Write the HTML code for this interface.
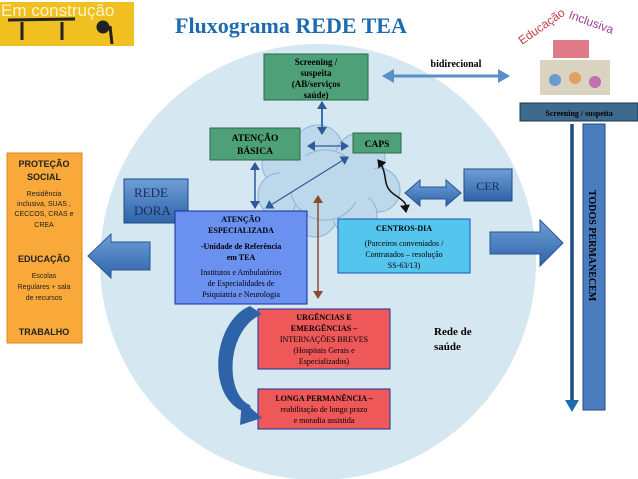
<!DOCTYPE html>
<html><head><meta charset="utf-8"><style>
body{margin:0;background:#fff;}
svg{display:block;font-family:"Liberation Serif",serif;}
.s{font-family:"Liberation Sans",sans-serif;}
</style></head><body>
<svg width="638" height="479" viewBox="0 0 638 479">
<defs>
<marker id="ah" markerUnits="userSpaceOnUse" markerWidth="10" markerHeight="10" refX="7" refY="5" orient="auto-start-reverse"><path d="M0,0 L8,5 L0,10 z" fill="#2f5a9a"/></marker>
<marker id="ah2" markerUnits="userSpaceOnUse" markerWidth="14" markerHeight="14" refX="10" refY="7" orient="auto-start-reverse"><path d="M0,0 L12,7 L0,14 z" fill="#5a8fc8"/></marker>
<marker id="ak" markerUnits="userSpaceOnUse" markerWidth="10" markerHeight="10" refX="7" refY="5" orient="auto-start-reverse"><path d="M0,0 L8,5 L0,10 z" fill="#111"/></marker>
<marker id="ab" markerUnits="userSpaceOnUse" markerWidth="10" markerHeight="10" refX="7" refY="5" orient="auto-start-reverse"><path d="M0,0 L8,5 L0,10 z" fill="#8b4a2c"/></marker>
<linearGradient id="bb" x1="0" y1="0" x2="0" y2="1"><stop offset="0" stop-color="#6e9fd8"/><stop offset="1" stop-color="#2f63a8"/></linearGradient>
</defs>
<circle cx="318" cy="262" r="218" fill="#d5e7f0"/>
<!-- header -->
<rect x="0" y="2" width="134" height="44" fill="#f0c020"/>
<text x="1" y="16" class="s" font-size="17" fill="#fff4c8">Em construção</text>
<g stroke="#222" stroke-width="3" fill="#222">
<line x1="8" y1="20" x2="75" y2="19"/><line x1="22" y1="22" x2="22" y2="40"/><line x1="62" y1="22" x2="62" y2="40"/>
<circle cx="103" cy="27" r="5"/><line x1="110" y1="26" x2="112" y2="44"/></g>
<text x="175" y="33" font-size="22" font-weight="bold" fill="#1e6bb0">Fluxograma REDE TEA</text>
<!-- edu inclusiva -->
<text x="522" y="45" class="s" font-size="12" fill="#c0404a" transform="rotate(-35 522 45)">Educação</text>
<text x="568" y="18" class="s" font-size="12" fill="#a04090" transform="rotate(20 568 18)">Inclusiva</text>
<rect x="553" y="40" width="36" height="18" fill="#e07a88"/>
<rect x="540" y="60" width="70" height="35" fill="#d0c8b0" opacity="0.8"/>
<circle cx="555" cy="80" r="6" fill="#6a9ad0"/><circle cx="575" cy="78" r="6" fill="#e0a060"/><circle cx="595" cy="82" r="6" fill="#c070b0"/>
<rect x="520" y="103" width="118" height="18" fill="#3e6a8e" stroke="#234"/>
<text x="579" y="116" text-anchor="middle" font-size="8" font-weight="bold">Screening / suspeita</text>
<!-- cloud -->
<g fill="#bcd8ea" stroke="#8db4d4" stroke-width="1">
<circle cx="282" cy="165" r="20"/><circle cx="318" cy="150" r="25"/><circle cx="360" cy="158" r="25"/><circle cx="280" cy="195" r="22"/><circle cx="378" cy="190" r="22"/><circle cx="315" cy="215" r="22"/><circle cx="355" cy="215" r="22"/><circle cx="325" cy="185" r="35"/>
</g>
<g fill="#bcd8ea"><circle cx="325" cy="185" r="34"/><circle cx="300" cy="175" r="20"/><circle cx="355" cy="180" r="22"/></g>
<!-- top boxes -->
<rect x="264" y="54" width="104" height="46" fill="#4ea078" stroke="#2b6a45"/>
<text font-size="9" font-weight="bold" text-anchor="middle"><tspan x="316" y="65">Screening /</tspan><tspan x="316" y="76">suspeita</tspan><tspan x="316" y="87">(AB/serviços</tspan><tspan x="316" y="98">saúde)</tspan></text>
<text x="456" y="67" font-size="10" font-weight="bold" text-anchor="middle">bidirecional</text>
<line x1="384" y1="76" x2="508" y2="76" stroke="#5a8fc8" stroke-width="3" marker-start="url(#ah2)" marker-end="url(#ah2)"/>
<line x1="322" y1="102" x2="322" y2="134" stroke="#3b6eb0" stroke-width="2" marker-start="url(#ah)" marker-end="url(#ah)"/>
<rect x="210" y="128" width="90" height="32" fill="#4ea078" stroke="#2b6a45"/>
<text font-size="9.5" font-weight="bold" text-anchor="middle"><tspan x="255" y="141">ATENÇÃO</tspan><tspan x="255" y="154">BÁSICA</tspan></text>
<rect x="353" y="133" width="48" height="20" fill="#4ea078" stroke="#2b6a45"/>
<text x="377" y="147" font-size="9.5" font-weight="bold" text-anchor="middle">CAPS</text>
<line x1="308" y1="146" x2="348" y2="146" stroke="#2f5a9a" stroke-width="1.2" marker-start="url(#ah)" marker-end="url(#ah)"/>
<line x1="255" y1="163" x2="255" y2="208" stroke="#2f5a9a" stroke-width="1.5" marker-start="url(#ah)" marker-end="url(#ah)"/>
<line x1="266" y1="208" x2="348" y2="157" stroke="#2f5a9a" stroke-width="1.2" marker-start="url(#ah)" marker-end="url(#ah)"/>
<path d="M378,160 C390,175 380,185 395,195 S405,205 406,212" fill="none" stroke="#111" stroke-width="1.5" marker-start="url(#ak)" marker-end="url(#ak)"/>
<line x1="318" y1="298" x2="318" y2="196" stroke="#8b4a2c" stroke-width="1.5" marker-start="url(#ab)" marker-end="url(#ab)"/>
<!-- left orange -->
<rect x="7" y="153" width="75" height="190" fill="#f9a83a" stroke="#e08a20"/>
<g class="s" text-anchor="middle" fill="#222">
<text font-size="9" font-weight="bold"><tspan x="44" y="167">PROTEÇÃO</tspan><tspan x="44" y="180">SOCIAL</tspan></text>
<text font-size="7"><tspan x="44" y="196">Residência</tspan><tspan x="44" y="206">inclusiva, SUAS ,</tspan><tspan x="44" y="216">CECCOS, CRAS e</tspan><tspan x="44" y="227">CREA</tspan></text>
<text x="44" y="262" font-size="9" font-weight="bold">EDUCAÇÃO</text>
<text font-size="7"><tspan x="44" y="278">Escolas</tspan><tspan x="44" y="289">Regulares + sala</tspan><tspan x="44" y="300">de recursos</tspan></text>
<text x="44" y="335" font-size="9" font-weight="bold">TRABALHO</text>
</g>
<path d="M88,256 L111,234 L111,242 L150,242 L150,270 L111,270 L111,278 z" fill="url(#bb)" stroke="#2a5590"/>
<rect x="124" y="179" width="64" height="44" fill="url(#bb)" stroke="#1e4a80"/>
<text font-size="13" fill="#1a2a5a"><tspan x="134" y="197">REDE</tspan><tspan x="134" y="215">DORA</tspan></text>
<!-- especializada -->
<rect x="175" y="211" width="132" height="93" fill="#6a90f0" stroke="#1a2aa0"/>
<g text-anchor="middle" font-size="8"><text font-weight="bold"><tspan x="241" y="222">ATENÇÃO</tspan><tspan x="241" y="233">ESPECIALIZADA</tspan><tspan x="241" y="249">-Unidade de Referência</tspan><tspan x="241" y="260">em TEA</tspan></text>
<text><tspan x="241" y="275">Institutos e Ambulatórios</tspan><tspan x="241" y="286">de Especialidades de</tspan><tspan x="241" y="297">Psiquiatria e Neurologia</tspan></text></g>
<rect x="338" y="219" width="132" height="54" fill="#54c6ee" stroke="#1a50c0"/>
<g text-anchor="middle" font-size="8"><text x="404" y="231" font-weight="bold">CENTROS-DIA</text>
<text><tspan x="404" y="246">(Parceiros conveniados /</tspan><tspan x="404" y="257">Contratados – resolução</tspan><tspan x="404" y="268">SS-63/13)</tspan></text></g>
<path d="M405,193 L420,180 L420,187 L446,187 L446,180 L461,193 L446,206 L446,199 L420,199 L420,206 z" fill="url(#bb)" stroke="#2a5590"/>
<rect x="464" y="169" width="48" height="32" fill="url(#bb)" stroke="#1e4a80"/>
<text x="488" y="190" font-size="12" text-anchor="middle" fill="#1a2a5a">CER</text>
<path d="M490,232 L540,232 L540,220 L563,243 L540,266 L540,254 L490,254 z" fill="url(#bb)" stroke="#2a5590"/>
<!-- red boxes -->
<rect x="258" y="309" width="132" height="60" fill="#ee5858" stroke="#2030a0"/>
<g text-anchor="middle" font-size="8"><text font-weight="bold"><tspan x="324" y="320">URGÊNCIAS E</tspan><tspan x="324" y="331">EMERGÊNCIAS –</tspan></text>
<text><tspan x="324" y="342">INTERNAÇÕES BREVES</tspan><tspan x="324" y="353">(Hospitais Gerais e</tspan><tspan x="324" y="364">Especializados)</tspan></text></g>
<rect x="258" y="389" width="132" height="40" fill="#ee5858" stroke="#2030a0"/>
<g text-anchor="middle" font-size="8"><text x="324" y="401" font-weight="bold">LONGA PERMANÊNCIA –</text>
<text><tspan x="324" y="412">reabilitação de longo prazo</tspan><tspan x="324" y="423">e moradia assistida</tspan></text></g>
<path d="M250,306 C215,320 205,390 240,410 L252,413 L250,405 C225,395 225,330 262,314 z" fill="#2f63a8"/>
<path d="M242,400 L262,418 L240,425 z" fill="#2f63a8"/>
<text font-size="11" font-weight="bold"><tspan x="434" y="335">Rede de</tspan><tspan x="434" y="350">saúde</tspan></text>
<!-- right -->
<line x1="572" y1="124" x2="572" y2="405" stroke="#1e4a80" stroke-width="3.5"/>
<path d="M565,400 L572,412 L579,400 z" fill="#1e6bb0"/>
<rect x="583" y="124" width="22" height="286" fill="#4a7cc0" stroke="#2a4a80"/>
<text x="589" y="190" font-size="10" font-weight="bold" transform="rotate(90 589 190)">TODOS  PERMANECEM</text>
</svg>
</body></html>
